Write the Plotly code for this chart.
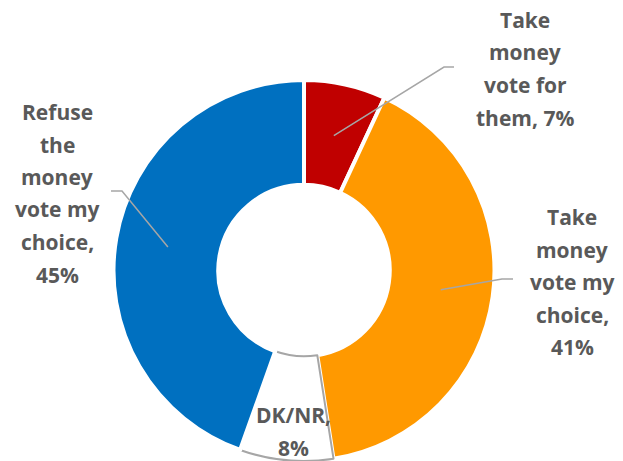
import math
import plotly.graph_objects as go

# Survey answers, clockwise from 12 o'clock
categories = ["Take money vote for them", "Take money vote my choice", "DK/NR",
              "Refuse the money vote my choice"]
values = [7, 41, 8, 45]
colors = ["#C00000", "#FF9900", "#FFFFFF", "#0070C0"]
label_templates = [
    "Take<br>money<br>vote for<br>them, {v}%",
    "Take<br>money<br>vote my<br>choice,<br>{v}%",
    "DK/NR,<br>{v}%",
    "Refuse<br>the<br>money<br>vote my<br>choice,<br>{v}%",
]

W, H = 623, 461
CX, CY, R = 304.0, 270.5, 190.5
HOLE = 0.45
TEXT_COLOR = "#595959"
LEADER_COLOR = "#A6A6A6"
FONT = "Open Sans"
LINE_GAP = 32.5

# label block placement (centre x, first line y) and leader elbow / end, in pixels
label_pos = [(525, 20), (572, 217), (293, 415), (57, 112)]
leaders = [((444, 67), (454, 67)), ((502, 279), (513, 279)), None, ((122, 191), (111, 191))]


def px(x, y):
    return x / W, 1 - y / H


fig = go.Figure(go.Pie(
    labels=categories,
    values=values,
    sort=False,
    direction="clockwise",
    rotation=0,
    hole=HOLE,
    textinfo="none",
    hoverinfo="label+value",
    marker=dict(colors=colors,
                line=dict(color=["white", "white", LEADER_COLOR, "white"],
                          width=[4, 4, 2, 4])),
    domain=dict(x=[(CX - R) / W, (CX + R) / W], y=[1 - (CY + R) / H, 1 - (CY - R) / H]),
    showlegend=False,
))

annotations = []
shapes = []
total = sum(values)
cum = 0
for i, v in enumerate(values):
    mid = (cum + v / 2) / total * 2 * math.pi
    cum += v
    # text lines
    lines = label_templates[i].format(v=v).split("<br>")
    lx, ly = label_pos[i]
    for k, line in enumerate(lines):
        x, y = px(lx, ly + k * LINE_GAP)
        annotations.append(dict(x=x, y=y, xref="paper", yref="paper", text=f"<b>{line}</b>",
                                showarrow=False, xanchor="center", yanchor="middle",
                                borderpad=0,
                                font=dict(family=FONT, size=21, color=TEXT_COLOR)))
    # leader line from the middle of the ring
    if leaders[i] is not None:
        rr = R * (1 + HOLE) / 2
        ax, ay = CX + rr * math.sin(mid), CY - rr * math.cos(mid)
        (ex, ey), (fx, fy) = leaders[i]
        p0, p1, p2 = px(ax, ay), px(ex, ey), px(fx, fy)
        shapes.append(dict(type="path", xref="paper", yref="paper",
                           path=f"M {p0[0]} {p0[1]} L {p1[0]} {p1[1]} L {p2[0]} {p2[1]}",
                           line=dict(color=LEADER_COLOR, width=1.5)))

fig.update_layout(
    width=W, height=H,
    margin=dict(l=0, r=0, t=0, b=0),
    paper_bgcolor="white",
    plot_bgcolor="white",
    annotations=annotations,
    shapes=shapes,
)

fig.write_html("out.html")
